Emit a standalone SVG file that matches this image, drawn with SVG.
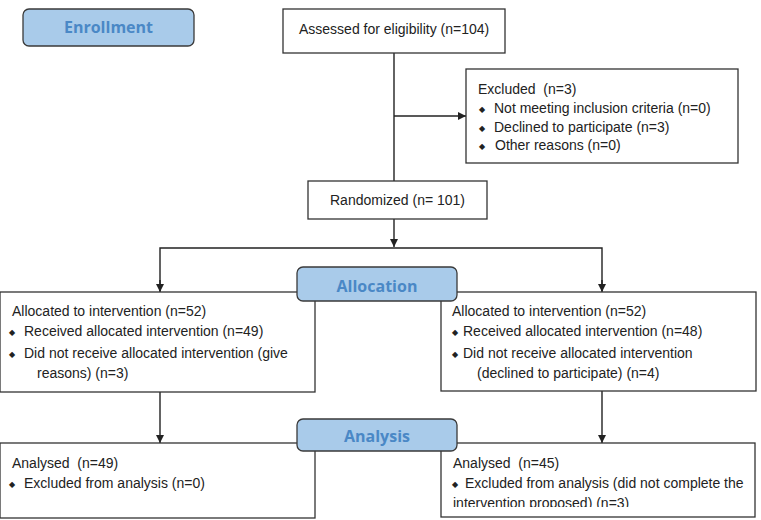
<svg xmlns="http://www.w3.org/2000/svg" width="761" height="520" viewBox="0 0 761 520">
<style>
.box{fill:#fff;stroke:#333;stroke-width:1.3}
.lab{fill:#a9cbea;stroke:#3a3a3a;stroke-width:1.3}
.lt{font-family:"Open Sans","Liberation Sans",sans-serif;font-weight:bold;font-size:16px;fill:#4a88c6;text-anchor:middle}
.t{font-family:"Liberation Sans",Arial,sans-serif;font-size:14px;fill:#222;white-space:pre}
.b{font-family:"DejaVu Sans",sans-serif;font-size:8px;fill:#222}
.ln{stroke:#222;stroke-width:1.4;fill:none}
</style>
<defs>
<marker id="ah" viewBox="0 0 10 10" refX="10" refY="5" markerWidth="8" markerHeight="8" markerUnits="userSpaceOnUse" orient="auto"><path d="M0,0L10,5L0,10z" fill="#222"/></marker>
<clipPath id="cr"><rect x="441" y="443" width="315" height="64"/></clipPath>
</defs>
<g id="connectors">
<line class="ln" x1="394" y1="53" x2="394" y2="181"/>
<line class="ln" x1="394" y1="116" x2="466" y2="116" marker-end="url(#ah)"/>
<line class="ln" x1="394" y1="219" x2="394" y2="247" marker-end="url(#ah)"/>
<polyline class="ln" points="160,291 160,248 602,248 602,291"/>
<line class="ln" x1="160" y1="280" x2="160" y2="292" marker-end="url(#ah)"/>
<line class="ln" x1="602" y1="280" x2="602" y2="292" marker-end="url(#ah)"/>
<line class="ln" x1="160" y1="392" x2="160" y2="443" marker-end="url(#ah)"/>
<line class="ln" x1="602" y1="391" x2="602" y2="443" marker-end="url(#ah)"/>
</g>
<g id="enrollment"><rect class="lab" x="23" y="9" width="171" height="37" rx="6"/><text class="lt" x="108.5" y="33">Enrollment</text></g>
<g id="assessed"><rect class="box" x="283" y="9" width="222" height="44"/><text class="t" x="299" y="33.5">Assessed for eligibility (n=104)</text></g>
<g id="excluded"><rect class="box" x="466" y="69" width="272" height="94"/>
<text class="t" x="478" y="94">Excluded  (n=3)</text>
<text class="b" x="479" y="112">◆</text><text class="t" x="494" y="113">Not meeting inclusion criteria (n=0)</text>
<text class="b" x="479" y="131">◆</text><text class="t" x="494" y="132">Declined to participate (n=3)</text>
<text class="b" x="479" y="149">◆</text><text class="t" x="495" y="150">Other reasons (n=0)</text></g>
<g id="randomized"><rect class="box" x="308" y="181" width="179" height="38"/><text class="t" x="330" y="205">Randomized (n= 101)</text></g>
<g id="alloc-left"><rect class="box" x="0" y="292" width="315" height="100"/>
<text class="t" x="12" y="316">Allocated to intervention (n=52)</text>
<text class="b" x="9" y="335">◆</text><text class="t" x="24" y="336">Received allocated intervention (n=49)</text>
<text class="b" x="9" y="357">◆</text><text class="t" x="24" y="358">Did not receive allocated intervention (give</text>
<text class="t" x="37" y="378">reasons) (n=3)</text></g>
<g id="alloc-right"><rect class="box" x="441" y="292" width="315" height="99"/>
<text class="t" x="452" y="316">Allocated to intervention (n=52)</text>
<text class="b" x="452" y="335">◆</text><text class="t" x="463" y="336">Received allocated intervention (n=48)</text>
<text class="b" x="452" y="357">◆</text><text class="t" x="463" y="358">Did not receive allocated intervention</text>
<text class="t" x="477" y="378">(declined to participate) (n=4)</text></g>
<g id="allocation"><rect class="lab" x="297" y="267" width="160" height="34" rx="6"/><text class="lt" x="377" y="292">Allocation</text></g>
<g id="analysed-left"><rect class="box" x="0" y="443" width="315" height="75"/>
<text class="t" x="12" y="468">Analysed  (n=49)</text>
<text class="b" x="9" y="487">◆</text><text class="t" x="24" y="488">Excluded from analysis (n=0)</text></g>
<g id="analysed-right"><rect class="box" x="441" y="443" width="314" height="74"/>
<text class="t" x="453" y="468">Analysed  (n=45)</text>
<text class="b" x="452" y="487">◆</text><text class="t" x="465" y="488">Excluded from analysis (did not complete the</text>
<text class="t" x="453" y="508" clip-path="url(#cr)">intervention proposed) (n=3)</text></g>
<g id="analysis"><rect class="lab" x="297" y="419" width="160" height="32" rx="6"/><text class="lt" x="377" y="442">Analysis</text></g>
</svg>
